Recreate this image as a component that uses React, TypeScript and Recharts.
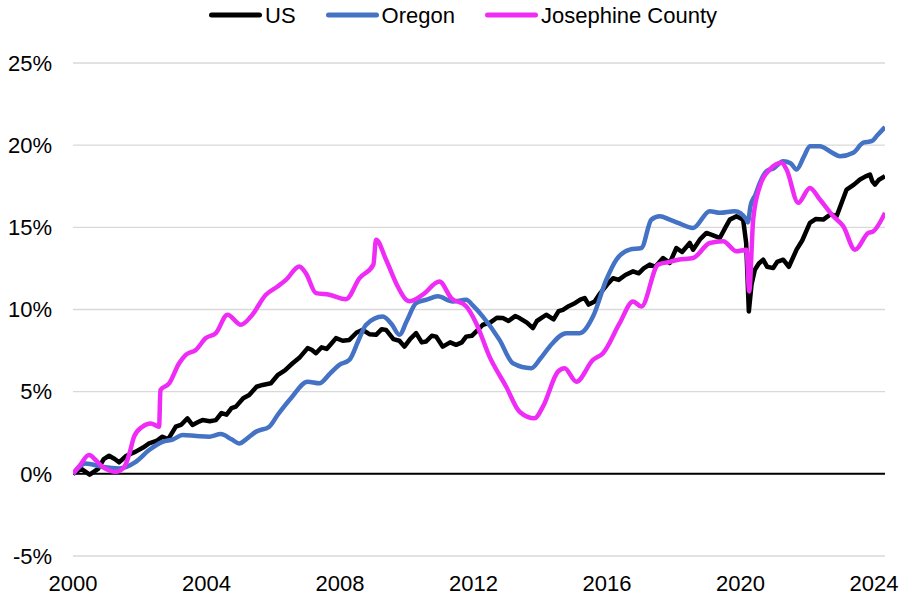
import React from 'react';
import { LineChart, Line, XAxis, YAxis, CartesianGrid, ReferenceLine, Legend } from 'recharts';

const xTicks = [2000, 2004, 2008, 2012, 2016, 2020, 2024];
const yTicks = [-5, 0, 5, 10, 15, 20, 25];

const usYears = [2000, 2000.25, 2000.5, 2000.75, 2000.92, 2001.08, 2001.25, 2001.38, 2001.6, 2001.88, 2002.1, 2002.28, 2002.5, 2002.68, 2002.85, 2003.08, 2003.25, 2003.43, 2003.58, 2003.75, 2003.88, 2004.1, 2004.28, 2004.45, 2004.6, 2004.75, 2004.88, 2005.1, 2005.28, 2005.5, 2005.68, 2005.93, 2006.13, 2006.35, 2006.58, 2006.8, 2007.03, 2007.15, 2007.28, 2007.45, 2007.6, 2007.75, 2007.88, 2008.08, 2008.28, 2008.5, 2008.68, 2008.88, 2009.08, 2009.25, 2009.38, 2009.6, 2009.78, 2009.93, 2010.1, 2010.28, 2010.45, 2010.58, 2010.75, 2010.88, 2011.08, 2011.3, 2011.48, 2011.65, 2011.78, 2011.95, 2012.13, 2012.28, 2012.5, 2012.7, 2012.88, 2013.05, 2013.25, 2013.38, 2013.6, 2013.78, 2013.9, 2014.05, 2014.18, 2014.4, 2014.55, 2014.68, 2014.85, 2015.05, 2015.2, 2015.33, 2015.45, 2015.63, 2015.8, 2016.0, 2016.18, 2016.35, 2016.55, 2016.78, 2016.95, 2017.1, 2017.28, 2017.45, 2017.68, 2017.88, 2018.08, 2018.25, 2018.48, 2018.58, 2018.8, 2018.98, 2019.2, 2019.38, 2019.55, 2019.68, 2019.88, 2020.08, 2020.17, 2020.25, 2020.33, 2020.43, 2020.55, 2020.68, 2020.8, 2020.98, 2021.1, 2021.28, 2021.45, 2021.68, 2021.85, 2022.08, 2022.25, 2022.48, 2022.7, 2022.88, 2023.05, 2023.18, 2023.4, 2023.58, 2023.75, 2023.88, 2023.95, 2024.03, 2024.15, 2024.33];
const usValues = [0, 0.3, -0.05, 0.3, 0.9, 1.1, 0.9, 0.7, 1.1, 1.35, 1.6, 1.85, 2.0, 2.26, 2.1, 2.87, 3.0, 3.38, 2.97, 3.15, 3.27, 3.2, 3.27, 3.7, 3.6, 4.0, 4.09, 4.6, 4.8, 5.3, 5.41, 5.51, 6.0, 6.3, 6.73, 7.1, 7.65, 7.55, 7.34, 7.7, 7.6, 7.95, 8.26, 8.1, 8.15, 8.6, 8.76, 8.5, 8.46, 8.8, 8.76, 8.2, 8.1, 7.74, 8.2, 8.56, 8.0, 8.05, 8.4, 8.35, 7.74, 8.0, 7.85, 8.0, 8.35, 8.4, 8.76, 9.07, 9.2, 9.5, 9.48, 9.3, 9.6, 9.48, 9.2, 8.87, 9.3, 9.5, 9.68, 9.4, 9.9, 9.98, 10.2, 10.4, 10.6, 10.7, 10.3, 10.49, 11.0, 11.5, 11.9, 11.8, 12.1, 12.32, 12.2, 12.5, 12.73, 12.6, 13.13, 12.83, 13.74, 13.5, 14.05, 13.64, 14.3, 14.66, 14.5, 14.35, 15.0, 15.47, 15.67, 15.47, 14.05, 9.88, 11.5, 12.42, 12.8, 13.03, 12.6, 12.52, 12.9, 13.03, 12.6, 13.64, 14.2, 15.27, 15.5, 15.47, 15.8, 15.67, 16.6, 17.3, 17.6, 17.91, 18.1, 18.21, 17.8, 17.6, 17.9, 18.11];

const oregonYears = [2000, 2000.38, 2000.88, 2001.38, 2001.88, 2002.28, 2002.68, 2003.0, 2003.28, 2003.7, 2004.08, 2004.43, 2004.75, 2004.98, 2005.25, 2005.48, 2005.88, 2006.13, 2006.53, 2007.03, 2007.38, 2007.7, 2007.98, 2008.28, 2008.55, 2008.78, 2009.28, 2009.55, 2009.78, 2010.0, 2010.28, 2010.6, 2010.93, 2011.38, 2011.78, 2012.0, 2012.28, 2012.78, 2013.18, 2013.73, 2014.0, 2014.28, 2014.78, 2015.18, 2015.58, 2015.98, 2016.28, 2016.68, 2017.03, 2017.33, 2017.58, 2017.88, 2018.13, 2018.58, 2019.08, 2019.38, 2019.83, 2020.18, 2020.22, 2020.3, 2020.45, 2020.58, 2020.78, 2021.0, 2021.28, 2021.5, 2021.68, 2021.9, 2022.08, 2022.38, 2022.7, 2022.98, 2023.38, 2023.68, 2023.93, 2024.1, 2024.33];
const oregonValues = [0, 0.63, 0.43, 0.33, 0.73, 1.45, 1.95, 2.1, 2.36, 2.3, 2.26, 2.42, 2.1, 1.85, 2.2, 2.56, 2.87, 3.58, 4.6, 5.61, 5.51, 6.1, 6.63, 6.93, 8.1, 9.07, 9.57, 9.1, 8.46, 9.3, 10.39, 10.6, 10.8, 10.49, 10.59, 10.2, 9.57, 8.15, 6.73, 6.43, 7.0, 7.74, 8.56, 8.56, 9.57, 11.81, 13.03, 13.64, 13.74, 15.47, 15.67, 15.47, 15.27, 14.96, 15.98, 15.88, 15.98, 15.47, 15.3, 16.3, 17.0, 17.71, 18.42, 18.6, 19.02, 18.9, 18.52, 19.3, 19.94, 19.94, 19.6, 19.33, 19.54, 20.15, 20.24, 20.6, 21.1];

const josephineYears = [2000, 2000.2, 2000.48, 2000.7, 2000.88, 2001.1, 2001.28, 2001.53, 2001.7, 2001.83, 2002.08, 2002.33, 2002.58, 2002.62, 2002.88, 2003.18, 2003.38, 2003.68, 2003.98, 2004.28, 2004.63, 2005.03, 2005.33, 2005.78, 2006.13, 2006.38, 2006.78, 2006.98, 2007.28, 2007.68, 2008.18, 2008.58, 2009.0, 2009.08, 2009.38, 2009.73, 2009.98, 2010.08, 2010.48, 2010.98, 2011.33, 2011.78, 2012.08, 2012.48, 2012.98, 2013.38, 2013.83, 2014.08, 2014.53, 2014.73, 2015.08, 2015.58, 2015.88, 2016.38, 2016.78, 2017.03, 2017.53, 2017.88, 2018.13, 2018.58, 2019.08, 2019.48, 2019.88, 2020.18, 2020.26, 2020.38, 2020.58, 2020.88, 2021.23, 2021.38, 2021.73, 2022.08, 2022.38, 2022.78, 2023.08, 2023.43, 2023.83, 2023.98, 2024.33];
const josephineValues = [0, 0.5, 1.14, 0.8, 0.43, 0.2, 0.12, 0.4, 1.3, 2.26, 2.87, 3.07, 2.87, 5.1, 5.5, 6.73, 7.24, 7.54, 8.26, 8.56, 9.68, 9.07, 9.57, 10.9, 11.4, 11.8, 12.62, 12.2, 11.0, 10.9, 10.63, 11.9, 12.73, 14.25, 13.03, 11.4, 10.6, 10.5, 10.9, 11.7, 10.7, 10.2, 9.17, 7.13, 5.3, 3.78, 3.38, 4.09, 6.22, 6.43, 5.61, 6.93, 7.34, 9.17, 10.49, 10.18, 12.73, 12.9, 13.03, 13.13, 14.05, 14.15, 13.54, 13.64, 11.1, 15.47, 17.5, 18.52, 18.93, 18.52, 16.49, 17.4, 16.69, 15.67, 15.06, 13.64, 14.66, 14.76, 15.88];

const seriesNames = ['US', 'Oregon', 'Josephine County'];
const seriesColors = ['#000000', '#4472C4', '#EF2CF5'];

const toPoints = (xs: number[], ys: number[]) => xs.map((x, i) => ({ x, y: ys[i] }));
const usData = toPoints(usYears, usValues);
const oregonData = toPoints(oregonYears, oregonValues);
const josephineData = toPoints(josephineYears, josephineValues);

const FONT = '"Liberation Sans", Arial, Helvetica, sans-serif';

const LegendContent = () => (
  <div style={{ height: 30, display: 'flex', alignItems: 'center', paddingLeft: 209, fontFamily: FONT, fontSize: 22, color: '#000' }}>
    {seriesNames.map((name, i) => (
      <div key={name} style={{ display: 'flex', alignItems: 'center', marginRight: 30 }}>
        <svg width={53} height={10} style={{ marginRight: 3, display: 'block' }}>
          <line x1={2.5} y1={5} x2={50.5} y2={5} stroke={seriesColors[i]} strokeWidth={5} strokeLinecap="round" />
        </svg>
        <span style={{ lineHeight: '25px' }}>{name}</span>
      </div>
    ))}
  </div>
);

export default function App() {
  return (
    <div style={{ width: 899, height: 597, background: '#fff' }}>
      <style>{'body{margin:0;background:#fff}'}</style>
      <LineChart width={899} height={597} margin={{ top: 33, right: 14, bottom: 11, left: 0 }}>
        <CartesianGrid vertical={false} stroke="#d9d9d9" strokeWidth={1.3} />
        <XAxis
          dataKey="x"
          type="number"
          domain={[2000, 2024.33]}
          ticks={xTicks}
          allowDataOverflow
          axisLine={false}
          tickLine={false}
          tickMargin={13}
          height={30}
          tick={{ fontSize: 22, fill: '#000', fontFamily: FONT }}
        />
        <YAxis
          type="number"
          domain={[-5, 25]}
          ticks={yTicks}
          width={73}
          axisLine={false}
          tickLine={false}
          tickMargin={15}
          tickFormatter={(v: number) => `${v}%`}
          tick={{ fontSize: 22, fill: '#000', fontFamily: FONT }}
        />
        <ReferenceLine y={0} stroke="#000" strokeWidth={2} />
        <Legend verticalAlign="top" content={<LegendContent />} wrapperStyle={{ top: 0, left: 0, width: 899 }} />
        <Line data={usData} dataKey="y" name={seriesNames[0]} type="linear" stroke={seriesColors[0]} strokeWidth={4.5} dot={false} isAnimationActive={false} strokeLinejoin="round" />
        <Line data={oregonData} dataKey="y" name={seriesNames[1]} type="monotone" stroke={seriesColors[1]} strokeWidth={4.5} dot={false} isAnimationActive={false} strokeLinejoin="round" />
        <Line data={josephineData} dataKey="y" name={seriesNames[2]} type="monotone" stroke={seriesColors[2]} strokeWidth={4.5} dot={false} isAnimationActive={false} strokeLinejoin="round" />
      </LineChart>
    </div>
  );
}
